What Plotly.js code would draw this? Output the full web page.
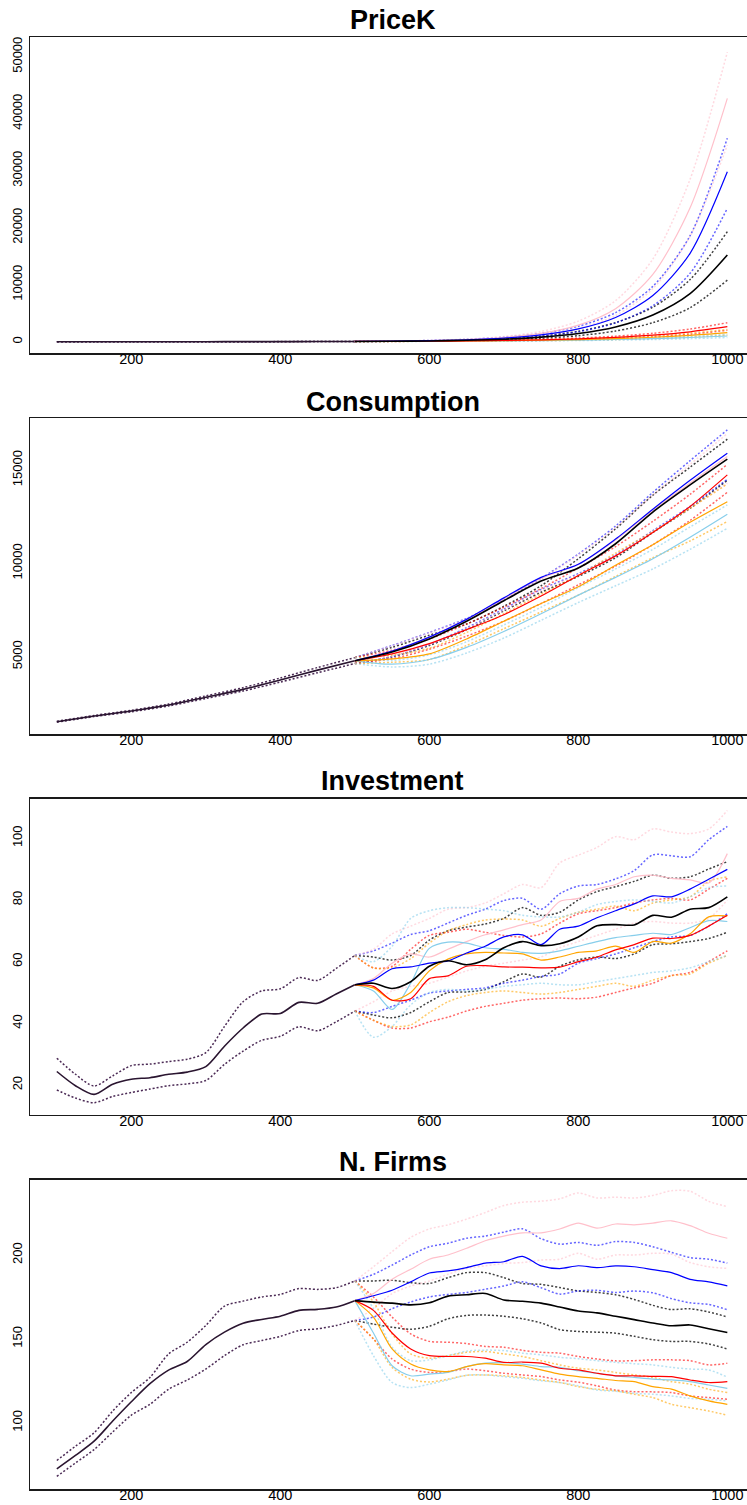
<!DOCTYPE html>
<html>
<head>
<meta charset="utf-8">
<script src="https://cdn.plot.ly/plotly-3.0.1.min.js"></script>
<style>
html,body{margin:0;padding:0;background:#fff;}
#chart{width:747px;height:1505px;}
</style>
</head>
<body>
<div id="chart"></div>
<script>
// ---------- x grids ----------
const xPre50  = [100,150,200,250,300,350,400,450,500];
const xPost50 = [500,550,600,650,700,750,800,850,900,950,1000];
const xPre25  = [100,125,150,175,200,225,250,275,300,325,350,375,400,425,450,475,500];
const xPost25 = [500,525,550,575,600,625,650,675,700,725,750,775,800,825,850,875,900,925,950,975,1000];

const xTicks = [200,400,600,800,1000];
const xTickText = ["200","400","600","800","1000"];

const titles = ["PriceK","Consumption","Investment","N. Firms"];
const scenarioNames = ["black","blue","pink","red","orange","skyblue"];
const scenarioColors = ["#000000","#0000FF","#FFC0CB","#FF0000","#FFA500","#87CEEB"];

// ---------- PriceK ----------
const pk_pre    = [0.4,0.7,1.2,2.2,3.9,7,12.7,23,42];
const pk_pre_hi = [0.5,0.8,1.5,2.7,4.7,8.4,15,27.5,50];
const pk_pre_lo = [0.35,0.6,1.0,1.8,3.2,5.8,10.5,19,35];
const pk_black    = [42,75,136,246,443,800,1440,2590,4680,8430,15200];
const pk_black_hi = [50,90,165,300,550,1000,1830,3350,6050,10900,19300];
const pk_black_lo = [35,60,108,190,340,600,1060,1880,3330,5950,10800];
const pk_blue    = [42,95,180,340,640,1200,2250,4250,8100,15500,29800];
const pk_blue_hi = [50,112,215,410,780,1450,2700,5100,9700,18600,35700];
const pk_blue_lo = [35,78,145,270,500,940,1740,3300,6300,12000,23400];
const pk_pink    = [42,95,190,370,730,1450,2900,5800,11800,23500,42700];
const pk_pink_hi = [50,115,230,450,900,1800,3600,7200,14500,28500,50800];
const pk_pink_lo = [35,78,155,300,590,1170,2320,4600,9300,18500,34500];
const pk_red    = [42,64,96,145,220,332,502,759,1147,1735,2630];
const pk_red_hi = [50,78,120,180,275,420,640,970,1470,2220,3330];
const pk_red_lo = [35,52,76,113,168,250,380,570,860,1300,2000];
const pk_orange    = [42,60,87,125,180,260,375,540,780,1120,1600];
const pk_orange_hi = [50,74,110,160,235,345,500,730,1060,1520,2150];
const pk_orange_lo = [35,48,68,95,135,190,270,380,540,790,1150];
const pk_sky    = [42,58,80,110,150,205,285,390,535,735,1000];
const pk_sky_hi = [50,70,98,138,190,265,370,510,700,960,1300];
const pk_sky_lo = [35,46,62,83,112,150,205,280,385,530,740];

// ---------- Consumption ----------
const co_pre    = [1516,1820,2090,2410,2830,3250,3750,4280,4780];
const co_pre_hi = [1540,1850,2130,2460,2900,3340,3860,4420,4950];
const co_pre_lo = [1490,1790,2050,2360,2760,3160,3640,4140,4630];
const co_black    = [4780,5250,5950,6900,8000,9050,9750,11050,12750,14200,15580];
const co_black_hi = [4950,5500,6150,6750,7700,8800,10250,11850,13650,15150,16650];
const co_black_lo = [4630,5000,5600,6450,7450,8450,9300,10300,11650,12950,14450];
const co_blue    = [4780,5300,6050,7000,8150,9250,9950,11300,12900,14450,15900];
const co_blue_hi = [4950,5600,6300,7050,8050,9200,10500,12000,13800,15500,17150];
const co_blue_lo = [4630,5000,5650,6550,7550,8600,9450,10450,11750,13050,14500];
const co_pink    = [4780,5300,6050,7000,8100,9200,9950,11250,12850,14300,15720];
const co_pink_hi = [4950,5580,6280,7000,8000,9150,10450,11900,13650,15300,16950];
const co_pink_lo = [4630,5020,5650,6500,7500,8550,9400,10400,11700,12950,14300];
const co_red    = [4780,5150,5700,6450,7250,8250,9350,10400,11650,13050,14740];
const co_red_hi = [4950,5350,5950,6750,7650,8650,9750,10900,12250,13700,15300];
const co_red_lo = [4630,4900,5400,6100,6900,7850,8850,9850,11000,12300,13810];
const co_orange    = [4780,4880,5150,5950,6900,7850,8750,9900,11000,12200,13300];
const co_orange_hi = [4950,5080,5450,6300,7300,8350,9350,10550,11700,12950,14250];
const co_orange_lo = [4630,4700,4850,5600,6500,7400,8300,9300,10300,11200,12240];
const co_sky    = [4780,4600,4850,5500,6350,7300,8300,9250,10250,11400,12630];
const co_sky_hi = [4950,4800,5100,5800,6700,7650,8700,9700,10750,11950,13130];
const co_sky_lo = [4630,4450,4600,5200,6000,6950,7900,8800,9700,10750,11880];

// ---------- Investment ----------
const inv_pre    = [24.4,19.8,17.0,20.3,21.9,22.4,23.5,24.2,26.0,32.6,38.5,43.0,43.2,46.8,46.5,49.5,52.5];
const inv_pre_hi = [28.7,23.5,19.7,23.0,26.3,26.8,27.6,28.4,30.5,39.0,47.0,50.5,51.2,54.8,53.9,57.8,62.0];
const inv_pre_lo = [18.4,15.8,14.3,16.3,17.6,18.7,19.8,20.4,21.5,26.7,31.0,34.5,35.8,38.9,37.6,40.5,44.0];
const inv_black    = [52.5,53.0,51.3,53.5,58.5,60.3,59.0,60.6,64.5,66.5,65.2,65.8,68.0,71.6,72.0,71.9,75.0,74.4,77.0,77.5,81.0];
const inv_black_hi = [62.0,61.5,60.5,62.0,67.0,70.0,71.2,72.2,74.0,77.5,75.0,76.0,80.0,82.7,84.3,86.0,88.0,87.0,87.5,90.0,92.4];
const inv_black_lo = [44.0,42.7,41.8,43.5,47.0,50.0,50.2,51.0,53.5,56.0,55.0,58.5,60.6,61.5,61.0,62.5,65.5,65.8,66.5,67.5,69.5];
const inv_blue    = [52.5,54.0,57.7,58.3,59.5,60.2,62.8,65.0,68.0,68.7,65.5,70.5,71.5,74.2,76.5,78.7,81.3,81.0,83.5,86.7,89.9];
const inv_blue_hi = [62.0,63.5,66.0,68.8,70.0,72.5,75.0,77.0,79.8,80.5,77.0,82.0,84.5,85.0,86.8,89.5,94.6,94.3,94.0,99.5,103.8];
const inv_blue_lo = [44.0,43.5,45.5,47.5,49.8,50.5,51.0,51.5,53.0,54.0,55.2,56.0,59.5,61.0,62.5,64.5,66.5,68.0,68.5,71.5,75.5];
const inv_pink    = [52.5,54.5,59.5,62.5,61.5,64.0,66.5,68.7,70.3,72.0,73.5,79.5,80.5,83.5,85.0,87.5,88.0,87.0,86.5,85.5,95.0];
const inv_pink_hi = [62.0,64.0,69.0,71.5,74.0,77.0,77.5,79.0,82.0,85.0,84.0,92.0,94.5,97.0,100.5,99.5,103.0,102.0,101.5,103.0,109.0];
const inv_pink_lo = [44.0,47.0,50.5,52.0,53.0,55.0,57.0,58.5,59.5,60.5,61.5,64.5,66.5,68.5,70.5,72.5,73.0,72.5,72.5,74.0,80.0];
const inv_red    = [52.5,52.0,47.5,48.0,54.5,55.4,58.5,58.7,58.3,58.2,58.0,58.2,60.0,61.5,63.8,65.5,67.6,67.5,68.5,71.5,75.0];
const inv_red_hi = [62.0,58.0,58.5,64.0,68.5,69.5,70.5,69.5,68.5,68.0,69.0,72.5,75.5,76.5,77.5,79.0,80.0,80.5,80.0,83.5,87.0];
const inv_red_lo = [44.0,41.0,38.5,38.5,40.5,42.0,44.0,45.5,46.5,47.5,48.0,48.2,48.0,48.5,50.0,51.5,53.0,55.5,56.5,60.0,63.5];
const inv_orange    = [52.5,51.5,47.5,50.0,57.0,60.8,62.5,63.0,62.8,62.5,60.5,61.5,63.0,63.5,65.0,63.0,66.5,66.0,69.0,74.5,74.8];
const inv_orange_hi = [62.0,58.0,58.0,61.0,66.0,70.0,72.0,73.5,73.8,73.5,71.5,74.0,76.0,77.0,78.0,76.5,79.0,80.0,81.0,86.0,87.5];
const inv_orange_lo = [44.0,41.0,39.0,39.5,43.5,47.0,49.0,50.0,50.5,50.0,49.5,50.0,51.0,52.0,53.0,52.0,54.0,55.5,56.0,59.5,62.0];
const inv_sky    = [52.5,50.5,44.5,53.0,64.3,66.3,66.0,64.5,64.0,63.0,62.7,63.5,65.0,66.5,67.8,68.5,69.2,68.8,71.0,73.3,73.0];
const inv_sky_hi = [62.0,60.0,65.0,74.0,76.5,77.5,77.5,77.0,76.5,75.0,74.5,74.5,76.0,78.5,79.5,80.0,79.5,79.0,81.0,84.0,84.5];
const inv_sky_lo = [44.0,35.5,39.0,46.0,50.0,51.0,50.5,51.0,52.0,52.5,53.0,52.5,52.5,53.5,54.5,55.5,56.5,57.0,58.0,60.0,62.0];

// ---------- N. Firms ----------
const nf_pre    = [72.5,80.5,89.0,101.0,112.5,123.3,131.4,136.5,146.6,154.0,159.3,161.6,163.5,167.0,167.6,169.0,172.8];
const nf_pre_hi = [77.5,86.0,94.0,107.0,118.0,127.0,141.0,148.0,158.0,169.5,172.5,175.0,176.5,180.0,179.5,180.5,184.5];
const nf_pre_lo = [68.0,76.0,84.0,94.5,104.5,111.0,120.0,125.5,132.0,140.0,146.5,149.0,151.5,155.0,156.0,158.0,161.0];
const nf_black    = [172.8,171.9,171.3,170.3,171.5,175.5,176.3,177.1,173.2,172.4,171.3,169.0,166.6,165.5,163.5,161.5,159.5,157.8,158.3,156.0,153.8];
const nf_black_hi = [184.5,184.5,185.0,183.5,183.0,186.5,189.5,189.5,186.5,183.0,182.5,180.6,178.6,177.7,176.3,173.5,170.0,167.5,168.0,166.0,163.1];
const nf_black_lo = [161.0,158.8,157.0,155.7,157.5,162.0,164.0,164.2,163.5,162.0,159.5,155.5,154.4,154.0,153.4,151.5,149.5,148.5,148.5,147.0,144.0];
const nf_blue    = [172.8,175.7,179.0,184.0,189.3,190.5,192.5,195.2,196.0,199.2,193.5,191.9,193.6,192.5,193.5,193.0,191.3,189.5,185.5,184.0,181.6];
const nf_blue_hi = [184.5,188.5,194.0,200.0,204.9,207.0,210.0,211.3,213.6,215.6,209.7,206.5,207.5,205.8,208.0,207.5,204.9,201.6,198.5,197.5,195.2];
const nf_blue_lo = [161.0,163.0,168.0,172.0,175.0,176.5,177.7,179.6,181.5,184.0,180.5,176.7,178.6,179.0,177.7,178.5,177.5,174.0,171.5,170.5,167.4];
const nf_pink    = [172.8,177.0,185.5,191.5,197.5,200.0,204.0,208.5,211.3,213.2,213.2,215.5,219.0,216.0,218.5,218.0,219.0,220.4,217.5,213.0,210.0];
const nf_pink_hi = [184.5,193.0,202.0,210.5,215.5,218.0,221.4,225.3,229.5,231.5,232.1,233.5,237.0,234.0,234.5,234.0,235.5,238.3,238.0,232.0,228.8];
const nf_pink_lo = [161.0,168.0,177.0,181.5,184.5,188.5,192.0,193.5,195.0,195.5,197.0,197.5,201.0,197.5,200.0,200.0,201.0,200.5,195.5,193.0,192.0];
const nf_red    = [172.8,167.0,153.5,144.0,140.0,139.5,139.5,138.5,136.0,136.2,135.5,132.5,131.5,129.5,128.0,128.0,127.7,127.5,125.5,124.0,124.5];
const nf_red_hi = [184.5,175.0,163.0,153.0,148.5,148.0,147.2,145.5,145.0,143.2,142.0,141.5,139.5,138.0,136.9,137.0,137.5,137.5,137.0,134.5,135.5];
const nf_red_lo = [161.0,150.0,138.0,132.0,130.0,130.5,132.0,131.0,129.5,128.5,127.5,125.5,124.2,122.0,119.5,118.5,118.4,118.0,116.0,115.0,114.0];
const nf_orange    = [172.8,163.0,144.0,135.0,131.5,130.5,133.5,135.2,134.5,134.0,131.5,129.0,127.5,126.5,125.2,124.5,121.5,120.0,116.0,113.0,111.0];
const nf_orange_hi = [184.5,172.0,153.0,141.0,138.5,140.0,142.0,142.5,141.0,139.5,137.0,134.5,132.5,131.5,130.0,128.5,127.0,124.5,123.0,120.0,118.0];
const nf_orange_lo = [161.0,150.0,133.0,126.0,124.3,126.0,128.3,128.5,128.0,127.0,125.5,124.0,121.5,120.0,119.0,117.0,115.0,111.0,109.0,107.0,104.5];
const nf_sky    = [172.8,153.5,134.0,128.0,129.0,130.0,133.5,135.5,135.8,135.0,133.5,133.0,131.0,129.5,128.0,127.0,126.0,125.5,124.5,122.5,120.5];
const nf_sky_hi = [184.5,168.0,145.0,137.0,137.5,140.0,142.7,143.3,143.0,141.5,140.5,139.0,138.2,137.0,136.0,135.2,134.5,133.0,132.0,131.5,127.2];
const nf_sky_lo = [161.0,140.0,124.0,121.0,123.0,125.5,128.3,128.5,127.5,126.5,125.0,124.0,122.0,119.5,118.8,117.5,117.0,116.0,114.5,114.0,113.0];

// ---------- y tick labels ----------
const yTicks = [[0,10000,20000,30000,40000,50000],[5000,10000,15000],[20,40,60,80,100],[100,150,200]];
const yTickText = [["0","10000","20000","30000","40000","50000"],["5000","10000","15000"],["20","40","60","80","100"],["100","150","200"]];

// ---------- build ----------
const panels = [
  {xPre:xPre50, xPost:xPost50, pre:[pk_pre_lo,pk_pre,pk_pre_hi],
   sc:[[pk_black_lo,pk_black,pk_black_hi],[pk_blue_lo,pk_blue,pk_blue_hi],[pk_pink_lo,pk_pink,pk_pink_hi],
       [pk_red_lo,pk_red,pk_red_hi],[pk_orange_lo,pk_orange,pk_orange_hi],[pk_sky_lo,pk_sky,pk_sky_hi]]},
  {xPre:xPre50, xPost:xPost50, pre:[co_pre_lo,co_pre,co_pre_hi],
   sc:[[co_black_lo,co_black,co_black_hi],[co_blue_lo,co_blue,co_blue_hi],[co_pink_lo,co_pink,co_pink_hi],
       [co_red_lo,co_red,co_red_hi],[co_orange_lo,co_orange,co_orange_hi],[co_sky_lo,co_sky,co_sky_hi]]},
  {xPre:xPre25, xPost:xPost25, pre:[inv_pre_lo,inv_pre,inv_pre_hi],
   sc:[[inv_black_lo,inv_black,inv_black_hi],[inv_blue_lo,inv_blue,inv_blue_hi],[inv_pink_lo,inv_pink,inv_pink_hi],
       [inv_red_lo,inv_red,inv_red_hi],[inv_orange_lo,inv_orange,inv_orange_hi],[inv_sky_lo,inv_sky,inv_sky_hi]]},
  {xPre:xPre25, xPost:xPost25, pre:[nf_pre_lo,nf_pre,nf_pre_hi],
   sc:[[nf_black_lo,nf_black,nf_black_hi],[nf_blue_lo,nf_blue,nf_blue_hi],[nf_pink_lo,nf_pink,nf_pink_hi],
       [nf_red_lo,nf_red,nf_red_hi],[nf_orange_lo,nf_orange,nf_orange_hi],[nf_sky_lo,nf_sky,nf_sky_hi]]}
];

const yRanges = [[-1982,53456],[858,17787],[10.4,112.8],[60.5,244.9]];
const boxTop = [37,418,798.7,1179.7];
const boxBot = [353,734,1114.7,1489];
const titleY = [20,401.5,780.5,1161.5];

const H = 1505, W = 747;
const solidOrder = [2,5,4,3,1,0]; // pink, skyblue, orange, red, blue, black
const traces = [];
const annotations = [];
const layout = {
  width: W, height: H,
  margin: {l:0, r:0, t:0, b:0},
  paper_bgcolor: '#ffffff', plot_bgcolor: '#ffffff',
  showlegend: false,
  font: {family: 'Liberation Sans, Arial, sans-serif', color: '#000'},
  annotations: annotations
};

panels.forEach((p, i) => {
  const n = i + 1;
  const xa = 'x' + (n === 1 ? '' : n);
  const ya = 'y' + (n === 1 ? '' : n);
  const dotW = 1.5;
  // shared pre-shock band and path
  [0,2].forEach(k => traces.push({x:p.xPre, y:p.pre[k], xaxis:xa, yaxis:ya, mode:'lines', hoverinfo:'skip',
    line:{color:'#4b2a55', width:dotW, dash:'2px,2px', shape:'spline', smoothing:0.8}}));
  traces.push({x:p.xPre, y:p.pre[1], xaxis:xa, yaxis:ya, mode:'lines', hoverinfo:'skip',
    line:{color:'#2a1530', width:1.6, shape:'spline', smoothing:0.8}});
  // dotted bands of each scenario
  p.sc.forEach((s, j) => {
    [0,2].forEach(k => traces.push({x:p.xPost, y:s[k], xaxis:xa, yaxis:ya, mode:'lines', hoverinfo:'skip',
      opacity: j === 0 ? 0.75 : 0.6,
      line:{color:scenarioColors[j], width:dotW, dash:'2px,2px', shape:'spline', smoothing:0.8}}));
  });
  // solid lines
  solidOrder.forEach(j => {
    const s = p.sc[j];
    traces.push({x:p.xPost, y:s[1], xaxis:xa, yaxis:ya, mode:'lines', hoverinfo:'skip', name:scenarioNames[j],
      line:{color:scenarioColors[j], width: j === 0 ? 1.6 : 1.2, shape:'spline', smoothing:0.8}});
  });

  layout['xaxis' + (n === 1 ? '' : n)] = {
    domain:[30/W, 1], range:[64, 1026.4], anchor: ya,
    tickvals:xTicks, ticktext:xTickText, ticks:'', showgrid:false, zeroline:false,
    showline:true, mirror:true, linecolor:'#1a1a1a', linewidth:1.5,
    tickfont:{size:14.5, color:'#000', family:'Liberation Sans, Arial, sans-serif'},
    ticklabelstandoff: -8
  };
  layout['yaxis' + (n === 1 ? '' : n)] = {
    domain:[1 - boxBot[i]/H, 1 - boxTop[i]/H], range:yRanges[i], anchor: xa,
    tickvals:yTicks[i], ticktext:yTickText[i], ticks:'', tickangle:-90, showgrid:false, zeroline:false,
    showline:true, mirror:false, linecolor:'#1a1a1a', linewidth:1.5,
    tickfont:{size:13, color:'#000', family:'Liberation Sans, Arial, sans-serif'},
    ticklabelstandoff: 1
  };
  annotations.push({text:'<b>' + titles[i] + '</b>', xref:'paper', yref:'paper',
    x: 392.5/W, y: 1 - titleY[i]/H, xanchor:'center', yanchor:'middle', showarrow:false,
    font:{size:27, color:'#000', family:'Liberation Sans, Arial, sans-serif'}});
});

Plotly.newPlot('chart', traces, layout, {staticPlot:true, displayModeBar:false});
</script>
</body>
</html>
